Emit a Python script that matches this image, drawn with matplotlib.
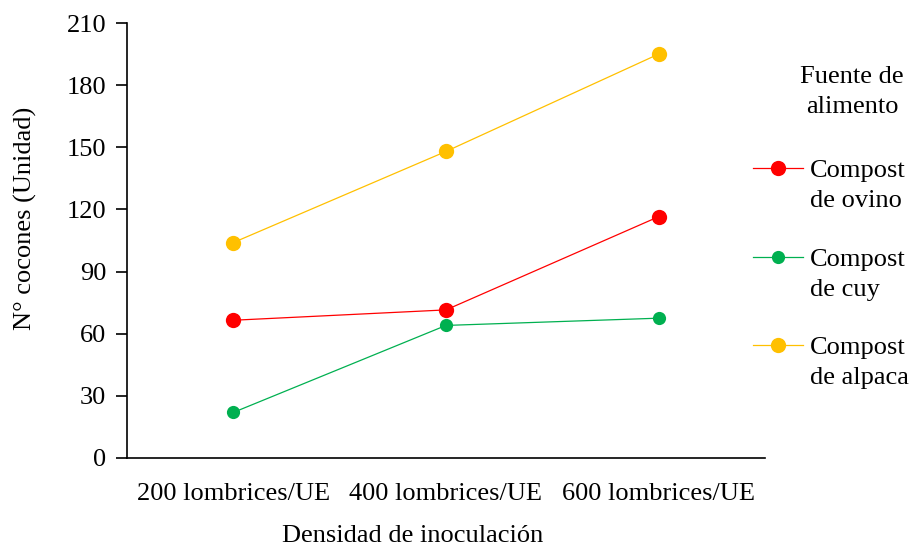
import matplotlib
matplotlib.use("Agg")
import matplotlib.pyplot as plt
from matplotlib.lines import Line2D

plt.rcParams['font.family'] = ['Liberation Serif', 'DejaVu Serif']

categories = ["200 lombrices/UE", "400 lombrices/UE", "600 lombrices/UE"]
ovino = [66.5, 71.5, 116.5]
cuy = [22, 64, 67.5]
alpaca = [104, 148, 195]
series_names = ["Compost\nde ovino", "Compost\nde cuy", "Compost\nde alpaca"]
colors = ["#FF0000", "#00B050", "#FFC000"]
yticks = [0, 30, 60, 90, 120, 150, 180, 210]

W, H = 915, 549
FS = 19
fig = plt.figure(figsize=(W/100, H/100), dpi=100)
ax = fig.add_axes([127/W, 1-458/H, (765-127)/W, (458-23)/H])

x = list(range(len(categories)))
sizes = [11, 9.5, 11]
for vals, c, ms in zip([ovino, cuy, alpaca], colors, sizes):
    ax.plot(x, vals, color=c, lw=0.9, marker='o', markersize=ms, markeredgewidth=0)

ax.set_xlim(-0.5, 2.5)
ax.set_ylim(0, 210)
ax.set_yticks(yticks)
ax.set_xticks(x)
ax.set_xticklabels(categories)
for s in ['top', 'right']:
    ax.spines[s].set_visible(False)
ax.spines['left'].set_linewidth(1.2)
ax.spines['bottom'].set_linewidth(1.2)
ax.tick_params(axis='y', direction='out', length=8, width=1.2, labelsize=FS, pad=7)
ax.tick_params(axis='x', length=0, labelsize=FS, pad=18)

fig.text(25/W, 1-218/H, "N° cocones (Unidad)", fontsize=FS, rotation=90,
         ha='center', va='center')
fig.text(413/W, 1-542/H, "Densidad de inoculación", fontsize=FS,
         ha='center', va='baseline')

# legend (drawn manually in figure pixels)
fig.text(852/W, 1-83/H, "Fuente de", fontsize=FS, ha='center', va='baseline')
fig.text(852/W, 1-113/H, "alimento", fontsize=FS, ha='center', va='baseline')
line_y = [168, 257, 345]
for c, name, ms, ly in zip(colors, series_names, sizes, line_y):
    fig.add_artist(Line2D([753/W, 803/W], [1-ly/H, 1-ly/H], color=c, lw=0.9,
                          transform=fig.transFigure))
    fig.add_artist(Line2D([778/W], [1-ly/H], color=c, marker='o', markersize=ms,
                          markeredgewidth=0, transform=fig.transFigure))
    l1, l2 = name.split("\n")
    fig.text(810/W, 1-(ly+9)/H, l1, fontsize=FS, ha='left', va='baseline')
    fig.text(810/W, 1-(ly+39)/H, l2, fontsize=FS, ha='left', va='baseline')

fig.savefig("out.png", dpi=100)
